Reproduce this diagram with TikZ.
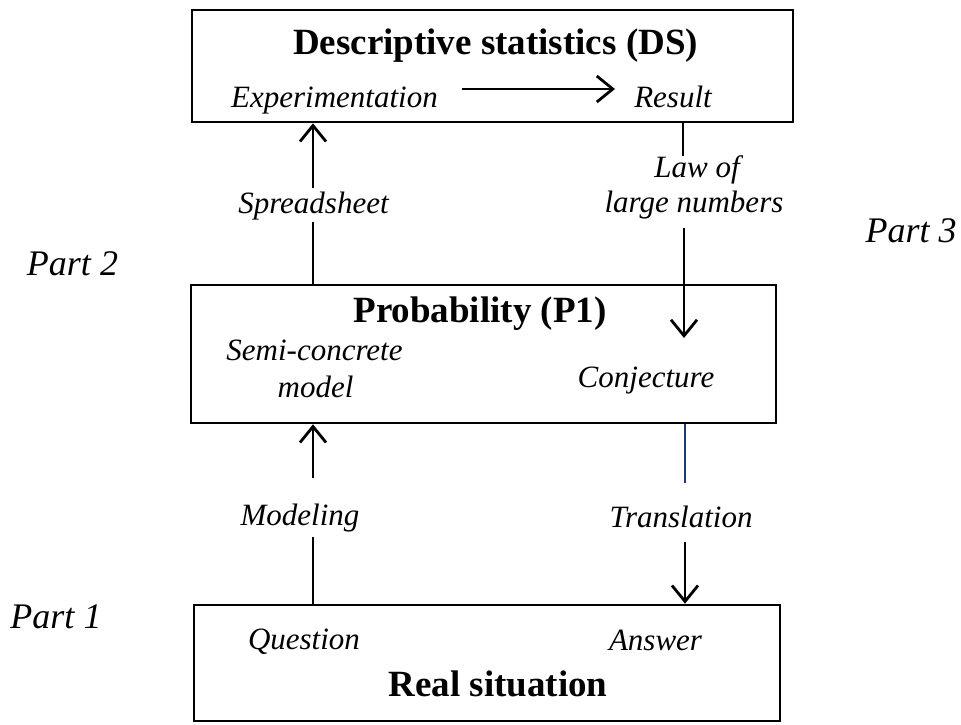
\documentclass[tikz,border=0pt]{standalone}
\usepackage{fontspec}
\setmainfont{Liberation Serif}
\usetikzlibrary{arrows.meta}
\definecolor{navy}{RGB}{31,56,120}
\tikzset{
  boxnode/.style={draw=black, line width=2.6pt, rectangle, inner sep=0pt},
  lbl/.style={inner sep=0pt, anchor=base, font=\fontsize{31}{35}\selectfont\itshape},
  partlbl/.style={inner sep=0pt, anchor=base, font=\fontsize{36}{40}\selectfont\itshape},
  ttl/.style={inner sep=0pt, anchor=base, font=\fontsize{37}{42}\selectfont\bfseries},
  arr/.style={line width=2.6pt, -{Straight Barb[length=16pt,width=26pt,line width=2.8pt]}},
  thinline/.style={line width=1.8pt},
}
\begin{document}
\begin{tikzpicture}[x=1pt,y=-1pt]
\useasboundingbox (0,0) rectangle (961,724);
% boxes
\node[boxnode, minimum width=601pt, minimum height=112pt] (ds) at (492.5,66) {};
\node[boxnode, minimum width=585pt, minimum height=138pt] (pr) at (483.5,354) {};
\node[boxnode, minimum width=586pt, minimum height=116pt] (rs) at (487,663) {};
% titles
\node[ttl] (dst) at (495.5,54) {Descriptive statistics (DS)};
\node[ttl] (prt) at (480,322) {Probability (P1)};
\node[ttl] (rst) at (498,696) {Real situation};
% labels in boxes
\node[lbl] (exp) at (334.5,107) {Experimentation};
\node[lbl] (res) at (673,107) {Result};
\node[lbl] (semi) at (314.5,360) {Semi-concrete};
\node[lbl] (model) at (315.5,397) {model};
\node[lbl] (conj) at (646,387) {Conjecture};
\node[lbl] (ques) at (304,649) {Question};
\node[lbl] (ans) at (655.5,650) {Answer};
% connector labels
\node[lbl] (sheet) at (313.5,213) {Spreadsheet};
\node[lbl] (law1) at (697,177) {Law of};
\node[lbl] (law2) at (694,212) {large numbers};
\node[lbl] (mod) at (300,525) {Modeling};
\node[lbl] (trans) at (681,527) {Translation};
% part labels
\node[partlbl] (p2) at (72.5,275) {Part 2};
\node[partlbl] (p3) at (911,242) {Part 3};
\node[partlbl] (p1) at (56,628) {Part 1};
% coordinates for connector ends
\coordinate (expR) at (462,89);
\coordinate (resL) at (615,89);
\coordinate (spA) at (313,188);
\coordinate (spB) at (313,222);
\coordinate (lawA) at (683,156);
\coordinate (lawB) at (684,228);
\coordinate (lawC) at (684,338);
\coordinate (modA) at (313,478);
\coordinate (modB) at (313,537);
\coordinate (trA) at (685,483);
\coordinate (trB) at (685,542);
% connectors
\draw[arr] (expR) -- (resL);
\draw[arr] (spA) -- (spA |- ds.south);
\draw[thinline, line width=2pt] (spB) -- (spB |- pr.north);
\draw[thinline] (lawA |- ds.south) -- (lawA);
\draw[arr] (lawB) -- (lawC);
\draw[arr] (modA) -- (modA |- pr.south);
\draw[thinline, line width=1.4pt] (modB) -- (modB |- rs.north);
\draw[thinline, draw=navy] (trA |- pr.south) -- (trA);
\draw[arr] (trB) -- (trB |- rs.north);
\end{tikzpicture}
\end{document}
